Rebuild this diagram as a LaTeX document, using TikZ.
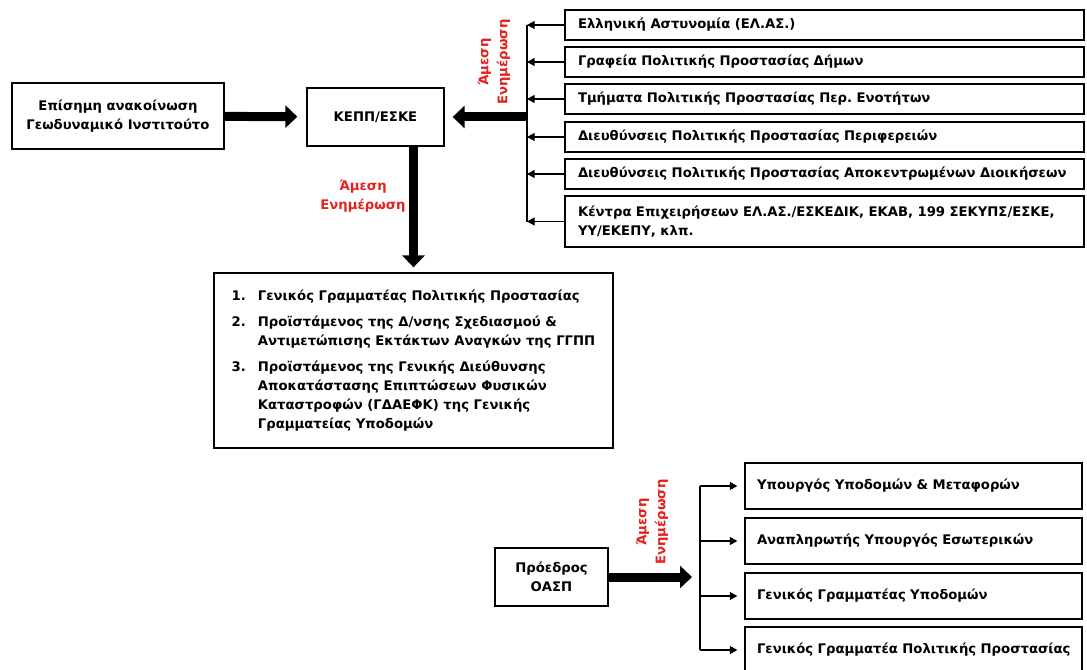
\documentclass[tikz,border=0pt]{standalone}
\usepackage{fontspec}
\setmainfont{DejaVu Sans}
\frenchspacing
\usetikzlibrary{positioning,calc,arrows.meta,shapes}

\definecolor{alertred}{HTML}{E3211F}

\tikzset{
    box/.style={draw, line width=0.9pt, rectangle, inner sep=0pt,
        font=\bfseries\fontsize{9.4}{13.5}\selectfont, align=center},
    wide/.style={box, align=left, inner xsep=0.325cm, text width=12.325cm,
        minimum height=0.75cm},
    side/.style={box, align=left, inner xsep=0.3cm, text width=7.825cm,
        minimum height=1.15cm},
    bigarrow/.style={line width=6.4pt, -{Triangle[length=0.3cm,width=0.55cm]}},
    thinarrow/.style={line width=0.8pt, -{Triangle[length=0.19cm,width=0.2cm]}},
    bar/.style={line width=0.8pt},
    note/.style={text=alertred, align=center,
        font=\bfseries\fontsize{9.4}{13.5}\selectfont}
}

\begin{document}
\begin{tikzpicture}
                    \useasboundingbox (0,0) rectangle (27.175,-16.75);
                    % Source
                    \node[box, minimum width=5.3cm, minimum height=1.65cm] (gein) at (2.95,-2.9)
                        {Επίσημη ανακοίνωση\\Γεωδυναμικό Ινστιτούτο};
                    \node[box, minimum width=3.425cm, minimum height=1.45cm] (kepp) at (9.3875,-2.925)
                        {ΚΕΠΠ/ΕΣΚΕ};
                    \draw[bigarrow, shorten >=0.225cm] (gein) -- (kepp);
                    % Services
                    \node[wide] (r1) at (20.6125,-0.625) {Ελληνική Αστυνομία (ΕΛ.ΑΣ.)};
                    \node[wide] (r2) at (20.6125,-1.55) {Γραφεία Πολιτικής Προστασίας Δήμων};
                    \node[wide] (r3) at (20.6125,-2.475) {Τμήματα Πολιτικής Προστασίας Περ. Ενοτήτων};
                    \node[wide] (r4) at (20.6125,-3.425) {Διευθύνσεις Πολιτικής Προστασίας Περιφερειών};
                    \node[wide] (r5) at (20.6125,-4.35) {\mbox{Διευθύνσεις Πολιτικής Προστασίας Αποκεντρωμένων Διοικήσεων}};
                    \node[wide, minimum height=1.275cm] (r6) at (20.6125,-5.5375)
                        {Κέντρα Επιχειρήσεων ΕΛ.ΑΣ./ΕΣΚΕΔΙΚ, ΕΚΑΒ, 199 ΣΕΚΥΠΣ/ΕΣΚΕ,\\ΥΥ/ΕΚΕΠΥ, κλπ.};
                    % Collector
                    \coordinate (bartop) at (13.175,-0.625);
                    \coordinate (barbot) at (13.175,-5.5375);
                    \draw[bar] (bartop) -- (barbot);
                    \foreach \r in {r1,r2,r3,r4,r5,r6}
                        \draw[thinarrow] (\r.west) -- (\r.west -| bartop);
                    \draw[bigarrow, shorten >=0.2cm] (bartop |- kepp.east) -- (kepp.east);
                    \node[note, rotate=90] (n1) at (12.35,-1.55) {Άμεση\\Ενημέρωση};
                    % List
                    \node[box, minimum width=9.975cm, minimum height=4.375cm] (list) at (10.3375,-9.0125)
                        {\begin{tabular}{@{}l@{\hspace{0.3cm}}l@{}}
                        1. & Γενικός Γραμματέας Πολιτικής Προστασίας\\[5pt]
                        2. & Προϊστάμενος της Δ/νσης Σχεδιασμού \&\\
                           & Αντιμετώπισης Εκτάκτων Αναγκών της ΓΓΠΠ\\[5pt]
                        3. & Προϊστάμενος της Γενικής Διεύθυνσης\\
                           & Αποκατάστασης Επιπτώσεων Φυσικών\\
                           & Καταστροφών (ΓΔΑΕΦΚ) της Γενικής\\
                           & Γραμματείας Υποδομών
                        \end{tabular}};
                    \draw[bigarrow, shorten >=0.125cm] (list.north |- kepp.south) -- (list.north);
                    \node[note] (n2) at (9.075,-4.9) {Άμεση\\Ενημέρωση};
                    % OASP
                    \node[box, minimum width=2.825cm, minimum height=1.45cm] (oasp) at (13.7875,-14.425)
                        {Πρόεδρος\\ΟΑΣΠ};
                    \node[side] (s1) at (22.8375,-12.15) {Υπουργός Υποδομών \& Μεταφορών};
                    \node[side] (s2) at (22.8375,-13.525) {Αναπληρωτής Υπουργός Εσωτερικών};
                    \node[side] (s3) at (22.8375,-14.9) {Γενικός Γραμματέας Υποδομών};
                    \node[side] (s4) at (22.8375,-16.25) {\mbox{Γενικός Γραμματέα Πολιτικής Προστασίας}};
                    \coordinate (forktop) at (17.5,-12.15);
                    \coordinate (forkbot) at (17.5,-16.25);
                    \draw[bar] (forktop) -- (forkbot);
                    \foreach \s in {s1,s2,s3,s4}
                        \draw[thinarrow, shorten >=0.175cm] (\s.west -| forktop) -- (\s.west);
                    \draw[bigarrow, shorten >=0.2cm] (oasp.east) -- (oasp.east -| forktop);
                    \node[note, rotate=90] (n3) at (16.3,-13.05) {Άμεση\\Ενημέρωση};
                \end{tikzpicture}
\end{document}
